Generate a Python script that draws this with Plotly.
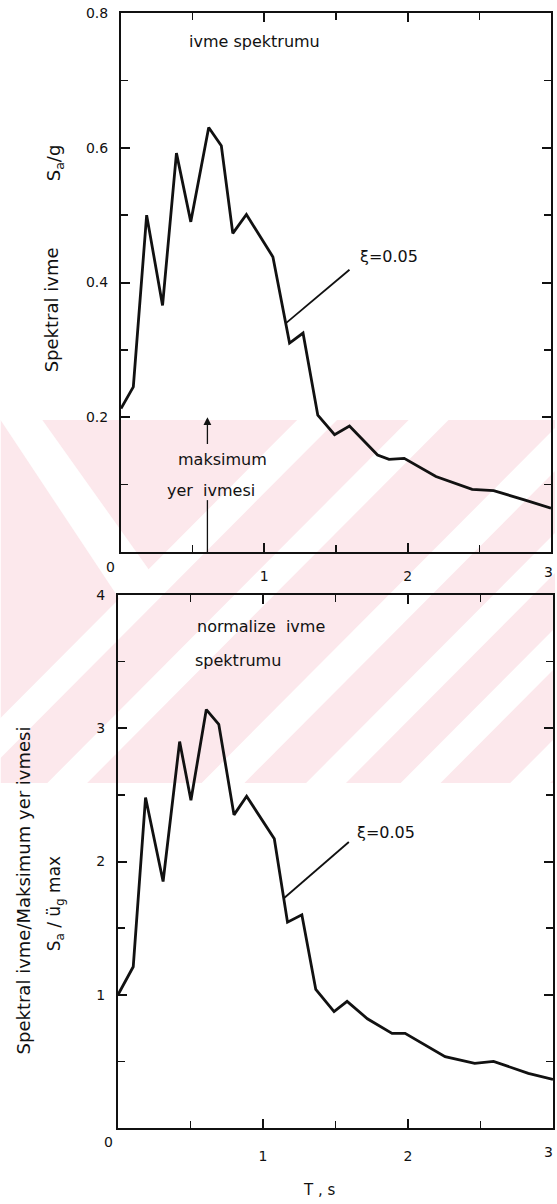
import plotly.graph_objects as go

# ---------------- data ----------------
T_top = [0.00, 0.086, 0.179, 0.29, 0.387, 0.487, 0.612, 0.70, 0.78, 0.875,
         1.06, 1.176, 1.27, 1.373, 1.49, 1.594, 1.79, 1.87, 1.976, 2.197,
         2.45, 2.60, 2.82, 3.00]
Sa_g = [0.213, 0.245, 0.500, 0.366, 0.592, 0.490, 0.630, 0.603, 0.473, 0.501,
        0.438, 0.310, 0.325, 0.203, 0.174, 0.187, 0.144, 0.1375, 0.139, 0.112,
        0.093, 0.091, 0.077, 0.065]

T_bot = [0.00, 0.105, 0.19, 0.311, 0.425, 0.503, 0.609, 0.695, 0.80, 0.887,
         1.078, 1.169, 1.268, 1.364, 1.49, 1.58, 1.72, 1.89, 1.98, 2.256,
         2.46, 2.59, 2.83, 3.00]
Sa_norm = [1.00, 1.21, 2.48, 1.85, 2.90, 2.46, 3.14, 3.03, 2.35, 2.49,
           2.17, 1.545, 1.60, 1.04, 0.873, 0.95, 0.82, 0.71, 0.71, 0.535,
           0.485, 0.50, 0.41, 0.365]

x_ticks = [1, 2]
x_ticktext = ["1", "2"]
y_top_ticks = [0.2, 0.4, 0.6, 0.8]
y_top_ticktext = ["0.2", "0.4", "0.6", "0.8"]
y_bot_ticks = [1, 2, 3, 4]
y_bot_ticktext = ["1", "2", "3", "4"]

damping_label = "ξ=0.05"
damp_top = [(1.153, 0.340), (1.594, 0.419)]
damp_bot = [(1.146, 1.726), (1.592, 2.146)]
T_pga = 0.603
pga = 0.2

# ---------------- layout helpers (positions given in page pixels) ----------------
W, H = 557, 1204
ML, MR, MT, MB = 118, 2, 13, 76
PW, PH = W - ML - MR, H - MT - MB


def px(x):
    return (x - ML) / PW


def py(y):
    return (H - MB - y) / PH


FONT = "DejaVu Sans"
BLACK = "#111111"
PINK = "#fce8ec"

fig = go.Figure()
fig.add_trace(go.Scatter(x=T_top, y=Sa_g, mode="lines", xaxis="x", yaxis="y",
                         line=dict(color=BLACK, width=2.8), showlegend=False,
                         hoverinfo="skip"))
fig.add_trace(go.Scatter(x=T_bot, y=Sa_norm, mode="lines", xaxis="x2", yaxis="y2",
                         line=dict(color=BLACK, width=2.8), showlegend=False,
                         hoverinfo="skip"))

axis_common = dict(showline=True, linecolor=BLACK, linewidth=2, mirror="ticks",
                   ticks="inside", ticklen=9, tickwidth=2, tickcolor=BLACK,
                   showgrid=False, zeroline=False,
                   tickfont=dict(family=FONT, size=14, color=BLACK))

fig.update_layout(
    width=W, height=H,
    margin=dict(l=ML, r=MR, t=MT, b=MB),
    paper_bgcolor="white", plot_bgcolor="rgba(0,0,0,0)",
    xaxis=dict(domain=[px(121), px(553)], anchor="y", range=[0, 3],
               tickmode="array", tickvals=x_ticks, ticktext=x_ticktext,
               ticklabelstandoff=10,
               minor=dict(tickvals=[0.5, 1.5, 2.5], ticks="inside", ticklen=7,
                          tickwidth=1.5, tickcolor=BLACK),
               **axis_common),
    yaxis=dict(domain=[py(552), py(13)], anchor="x", range=[0, 0.8],
               tickmode="array", tickvals=y_top_ticks, ticktext=y_top_ticktext,
               ticklabelstandoff=8,
               minor=dict(tickvals=[0.1, 0.3, 0.5, 0.7], ticks="inside",
                          ticklen=7, tickwidth=1.5, tickcolor=BLACK),
               **axis_common),
    xaxis2=dict(domain=[0, 1], anchor="y2", range=[0, 3],
                tickmode="array", tickvals=x_ticks, ticktext=x_ticktext,
                ticklabelstandoff=14,
                minor=dict(tickvals=[0.5, 1.5, 2.5], ticks="inside", ticklen=7,
                           tickwidth=1.5, tickcolor=BLACK),
                **axis_common),
    yaxis2=dict(domain=[0, py(595)], anchor="x2", range=[0, 4],
                tickmode="array", tickvals=y_bot_ticks, ticktext=y_bot_ticktext,
                ticklabelstandoff=8,
                minor=dict(tickvals=[0.5, 1.5, 2.5, 3.5], ticks="inside",
                           ticklen=7, tickwidth=1.5, tickcolor=BLACK),
                **axis_common),
)

# ---------------- background watermark (scan artefact) ----------------
shapes = []


def poly(points, color):
    path = "M " + " L ".join(f"{px(x):.5f},{py(y):.5f}" for x, y in points) + " Z"
    return dict(type="path", path=path, xref="paper", yref="paper",
                fillcolor=color, line=dict(width=0), layer="below")


shapes.append(poly([(0, 420), (557, 420), (557, 783), (0, 783)], PINK))
for c0, c1 in [(718, 758), (830, 870), (985, 1028), (1090, 1130), (1185, 1225),
               (1295, 1335)]:
    pts = [(c0 - 420, 420), (c1 - 420, 420), (c1 - 783, 783), (c0 - 783, 783)]
    shapes.append(poly(pts, "white"))
shapes.append(poly([(0, 420), (42, 420), (160, 585), (128, 612)], "white"))
shapes.append(poly([(-60, 400), (0, 400), (0, 800), (-60, 800)], "white"))

shapes.append(dict(type="line", xref="x", yref="y",
                   x0=damp_top[0][0], y0=damp_top[0][1],
                   x1=damp_top[1][0], y1=damp_top[1][1],
                   line=dict(color=BLACK, width=1.8)))
shapes.append(dict(type="line", xref="x2", yref="y2",
                   x0=damp_bot[0][0], y0=damp_bot[0][1],
                   x1=damp_bot[1][0], y1=damp_bot[1][1],
                   line=dict(color=BLACK, width=1.8)))
shapes.append(dict(type="line", xref="x", yref="y",
                   x0=T_pga, y0=0.077, x1=T_pga, y1=0.0,
                   line=dict(color=BLACK, width=1.3)))
fig.update_layout(shapes=shapes)

ann = []
txt = dict(family=FONT, size=16, color=BLACK)


def label(x, y, text, xref, yref, font, xanchor="center", angle=0):
    return dict(x=x, y=y, xref=xref, yref=yref, text=text, showarrow=False,
                xanchor=xanchor, yanchor="middle", textangle=angle, font=font)


ann.append(label(0.46, 0.757, "ivme spektrumu", "x", "y", txt, "left"))
ann.append(label(0.71, 0.137, "maksimum", "x", "y", txt))
ann.append(label(0.63, 0.092, "yer  ivmesi", "x", "y", txt))
ann.append(label(1.87, 0.438, damping_label, "x", "y", txt))
ann.append(dict(x=T_pga, y=pga, ax=T_pga, ay=0.158, xref="x", yref="y",
                axref="x", ayref="y", text="", showarrow=True, arrowhead=2,
                arrowsize=1.2, arrowwidth=1.3, arrowcolor=BLACK))
ann.append(label(0.53, 3.76, "normalize  ivme", "x2", "y2", txt, "left"))
ann.append(label(0.515, 3.51, "spektrumu", "x2", "y2", txt, "left"))
ann.append(label(1.85, 2.22, damping_label, "x2", "y2", txt))

tick_font = dict(family=FONT, size=14, color=BLACK)
ann.append(label(px(110), py(567), "0", "paper", "paper", tick_font))
ann.append(label(px(108), py(1142), "0", "paper", "paper", tick_font))
ann.append(label(px(557), py(572), "3", "paper", "paper", tick_font, "right"))
ann.append(label(px(557), py(1152), "3", "paper", "paper", tick_font, "right"))

ann.append(label(px(320), py(1190), "T , s", "paper", "paper",
                 dict(family=FONT, size=15, color=BLACK)))
ann.append(label(px(52), py(310), "Spektral ivme", "paper", "paper",
                 dict(family=FONT, size=18, color=BLACK), angle=-90))
ann.append(label(px(55), py(163), "S<sub>a</sub>/g", "paper", "paper",
                 dict(family=FONT, size=18, color=BLACK), angle=-90))
ann.append(label(px(23), py(890), "Spektral ivme/Maksimum yer ivmesi", "paper",
                 "paper", dict(family=FONT, size=18, color=BLACK), angle=-90))
ann.append(label(px(55), py(904), "S<sub>a</sub> / ü<sub>g</sub> max", "paper",
                 "paper", dict(family=FONT, size=17, color=BLACK), angle=-90))
fig.update_layout(annotations=ann)

fig.write_html(
    "out.html",
    config={"displayModeBar": False, "staticPlot": True},
    post_script="document.body.style.margin='0px';"
                "document.body.style.overflow='hidden';",
)
